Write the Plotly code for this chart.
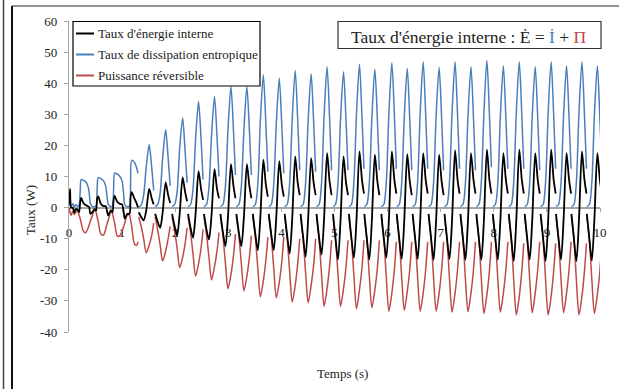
import plotly.graph_objects as go

# ---- data ----
# first seconds (plateau-shaped cycles), sampled by hand
t_early = [0.00, 0.02, 0.04, 0.07, 0.10, 0.13, 0.16, 0.19, 0.21, 0.23, 0.27, 0.31, 0.35, 0.38,
           0.40, 0.44, 0.48, 0.51, 0.53, 0.55, 0.60, 0.65, 0.69, 0.72, 0.74, 0.79, 0.82, 0.84,
           0.86, 0.91, 0.96, 1.00, 1.03, 1.05, 1.10, 1.14, 1.16, 1.18, 1.23, 1.27, 1.30]
blue_early = [0.5, 3.5, 0.5, 1.2, 0.3, 1.0, 0.4, 0.8, 5, 9.0, 8.8, 8.4, 7.2, 5,
              1.5, 0.4, 0.3, 0.5, 6, 9.6, 9.3, 8.6, 7.0, 3, 1.0, 0.3, 0.5, 6,
              11.1, 10.8, 10.0, 8.5, 4, 1.0, 0.3, 0.5, 8, 15.2, 14.6, 13.0, 11]
red_early = [0, -1.5, -2.5, -1.2, -2.2, -1.5, -1.0, -2.5, -3.5, -5, -7.5, -8.1, -7.0, -5.5,
             -4.5, -2.5, -0.8, -1.5, -3, -4.5, -8.5, -8.8, -7.0, -5, -4, -1.1, -2, -3.5,
             -5, -9.2, -9.0, -7.5, -6, -5, -2.3, -2.5, -4, -6, -11.5, -12.2, -11]
black_early = [1, 6, 0, 0, -1.5, -0.5, -0.6, -1.5, 1.5, 3.1, 1.5, 0.8, 0.5, 0.2,
               -2, -1.5, -0.5, -1, 3, 3.6, 1.2, 0.5, 0.5, -1.5, -2.5, -0.8, -1.5, 2.5,
               3.8, 1.8, 1.2, 1.0, -1.5, -3.5, -2, -2, 3.5, 5.0, 3.0, 1.5, 0]

# later cycles: time of each dissipation peak, and samples around it
cycle_t = [1.51, 1.82, 2.14, 2.44, 2.74, 3.05, 3.35, 3.66, 3.96, 4.26, 4.56, 4.86, 5.17, 5.47,
           5.76, 6.08, 6.37, 6.67, 6.97, 7.27, 7.57, 7.87, 8.18, 8.48, 8.78, 9.08, 9.37, 9.66, 9.95]
cycle_dt = [-0.198, -0.151, -0.104, -0.056, 0.0, 0.047, 0.085]

blue_cyc = [
    [0.3, 0.8, 4, 13, 20.2, 13, 5.5],
    [0.3, 1, 4.5, 16, 25.0, 16, 7],
    [0.3, 1, 5, 19, 28.8, 18, 8],
    [0.3, 1, 6, 22, 34.1, 22, 9],
    [0.3, 1, 6.5, 23, 35.7, 23, 10],
    [0.3, 1, 7, 25, 38.9, 25, 10.5],
    [0.3, 1, 7, 25, 38.9, 25, 10.5],
    [0.3, 1, 7.5, 28, 42.7, 27, 11.5],
    [0.3, 1, 7.5, 27, 41.6, 26.5, 11],
    [0.3, 1, 8, 28.5, 44.1, 28, 12],
    [0.3, 1, 8, 28, 43.0, 27.5, 11.5],
    [0.3, 1, 8, 29.5, 45.3, 29, 12],
    [0.3, 1, 8, 28.5, 43.7, 28, 12],
    [0.3, 1, 8.5, 30, 46.1, 29.5, 12.5],
    [0.3, 1, 8, 29, 44.5, 28.5, 12],
    [0.3, 1, 8.5, 30, 46.6, 30, 12.5],
    [0.3, 1, 8, 29, 44.8, 28.5, 12],
    [0.3, 1, 8.5, 30.5, 46.9, 30, 12.5],
    [0.3, 1, 8, 29.5, 45.1, 29, 12],
    [0.3, 1, 8.5, 30.5, 46.9, 30, 12.5],
    [0.3, 1, 8, 29.5, 45.3, 29, 12],
    [0.3, 1, 8.5, 30.5, 47.3, 30, 13],
    [0.3, 1, 8, 29.5, 45.6, 29, 12.5],
    [0.3, 1, 8.5, 30.5, 46.9, 30, 12.5],
    [0.3, 1, 8, 29.5, 45.3, 29, 12],
    [0.3, 1, 8.5, 30.5, 46.9, 30, 12.5],
    [0.3, 1, 8, 29.5, 45.6, 29, 12.5],
    [0.3, 1, 8.5, 30.5, 46.9, 30, 12.5],
    [0.3, 1, 8, 29.5, 45.6, 29, 12.5],
]
red_cyc = [
    [-3, -6, -10, -14.5, -12, -9, -5],
    [-3, -7, -12, -17.2, -14, -10, -6],
    [-3, -7.5, -13, -19.3, -16, -11.5, -6.5],
    [-3, -8, -15, -22.0, -18, -13, -7],
    [-3, -8.5, -16, -23.3, -19, -14, -8],
    [-3, -9, -18, -26.1, -21.5, -15.5, -8.5],
    [-3, -9, -18, -26.8, -22, -16, -9],
    [-3, -9.5, -19.5, -28.7, -23.5, -17, -9.5],
    [-3, -9.5, -19.5, -29.0, -24, -17.5, -9.5],
    [-3, -10, -20.5, -30.4, -25, -18, -10],
    [-3, -10, -21, -30.6, -25, -18.5, -10],
    [-3, -10, -21.5, -31.7, -26, -19, -10.5],
    [-3, -10, -21.5, -31.7, -26, -19, -10.5],
    [-3, -10, -22, -32.5, -26.5, -19.5, -10.5],
    [-3, -10, -22, -32.2, -26.5, -19.5, -10.5],
    [-3, -10, -22.5, -33.3, -27.5, -20, -11],
    [-3, -10, -22.5, -33.0, -27, -20, -11],
    [-3, -10, -22.5, -33.3, -27.5, -20, -11],
    [-3, -10, -22.5, -33.3, -27.5, -20, -11],
    [-3, -10, -23, -33.6, -27.5, -20, -11],
    [-3, -10, -23, -33.5, -27.5, -20, -11],
    [-3, -10, -23, -34.0, -28, -20.5, -11],
    [-3, -10, -23, -33.6, -27.5, -20, -11],
    [-3, -10, -23.5, -34.5, -28.5, -20.5, -11.5],
    [-3, -10, -23, -33.8, -27.5, -20, -11],
    [-3, -10, -23.5, -34.5, -28.5, -20.5, -11.5],
    [-3, -10, -23, -33.8, -27.5, -20, -11],
    [-3, -10, -23.5, -34.5, -28.5, -20.5, -11.5],
    [-3, -10, -23, -34.0, -28, -20.5, -11],
]
black_cyc = [
    [-1.5, -3, -4.1, -1, 6.0, 3, 1],
    [-2, -4.5, -6.5, -1.5, 8.1, 4, 1.5],
    [-2, -6, -9.0, -2, 9.7, 5, 2],
    [-2, -6.5, -9.7, -2, 11.7, 6, 2.5],
    [-2, -7, -10.3, -2.5, 12.4, 6, 3],
    [-2, -8, -12.4, -3, 14.0, 7, 3],
    [-2, -8, -12.4, -3, 14.0, 7, 3],
    [-2, -8.5, -13.7, -3, 15.4, 7.5, 3.5],
    [-2, -8.5, -13.7, -3, 14.9, 7.5, 3.5],
    [-2, -9, -14.8, -3.5, 16.5, 8, 4],
    [-2, -9.5, -15.8, -3.5, 15.9, 8, 4],
    [-2, -9.5, -15.1, -3.5, 17.5, 8.5, 4],
    [-2, -10, -16.7, -4, 16.5, 8, 4],
    [-2, -10, -16.1, -4, 18.1, 9, 4.5],
    [-2, -10, -16.7, -4, 17.0, 8.5, 4],
    [-2, -10, -16.1, -4, 18.1, 9, 4.5],
    [-2, -10, -16.5, -4, 17.2, 8.5, 4],
    [-2, -10, -16.5, -4, 17.5, 9, 4.5],
    [-2, -10, -16.8, -4, 17.0, 8.5, 4],
    [-2, -10, -16.5, -4, 18.4, 9, 4.5],
    [-2, -10, -16.8, -4, 17.5, 9, 4.5],
    [-2, -10, -16.8, -4, 18.6, 9, 4.5],
    [-2, -10, -16.7, -4, 17.5, 9, 4.5],
    [-2, -10, -17.2, -4, 18.6, 9, 4.5],
    [-2, -10, -16.7, -4, 17.5, 9, 4.5],
    [-2, -10, -17.2, -4, 18.6, 9, 4.5],
    [-2, -10, -16.7, -4, 17.5, 9, 4.5],
    [-2, -10, -17.2, -4, 18.1, 9, 4.5],
    [-2, -10, -17.0, -4, 17.5, 9, 4.5],
]

series_names = ["Taux d'énergie interne", "Taux de dissipation entropique", "Puissance réversible"]
series_colors = ["#000000", "#4A7EBB", "#BE4B48"]

x_ticks = list(range(0, 11))
y_ticks = list(range(-40, 61, 10))
y_ticktext = [str(v) for v in y_ticks]   # plain hyphen like the original

FONT = "Liberation Serif"


def build(early, cyc):
    xs = list(t_early) + [None]
    ys = list(early) + [None]
    for tc, vals in zip(cycle_t, cyc):
        xs += [round(tc + d, 3) for d in cycle_dt] + [None]
        ys += list(vals) + [None]
    return xs, ys


fig = go.Figure()
data = {0: (black_early, black_cyc), 1: (blue_early, blue_cyc), 2: (red_early, red_cyc)}
for i in [1, 2, 0]:
    xs, ys = build(*data[i])
    fig.add_trace(go.Scatter(x=xs, y=ys, mode="lines", name=series_names[i], showlegend=False,
                             line=dict(color=series_colors[i], width=1.8 if i == 0 else 1.5,
                                       shape="spline", smoothing=0.8)))

# pixel -> paper helpers (plot area 69..600 x 21..332)
def px(x):
    return (x - 69) / 531.0


def py(y):
    return (332 - y) / 311.0


shapes = []
annotations = []

# legend box drawn by hand
shapes.append(dict(type="rect", xref="paper", yref="paper", x0=px(73), x1=px(260), y0=py(86), y1=py(21.5),
                   line=dict(color="black", width=1.2), fillcolor="white", layer="above"))
for k, row in enumerate([33.5, 54.5, 75.5]):
    shapes.append(dict(type="line", xref="paper", yref="paper", x0=px(76), x1=px(94), y0=py(row), y1=py(row),
                       line=dict(color=series_colors[k], width=2), layer="above"))
    annotations.append(dict(text=series_names[k], xref="paper", yref="paper", x=px(96), y=py(row),
                            xanchor="left", yanchor="middle", showarrow=False,
                            font=dict(family=FONT, size=13, color="#222")))

# title box
shapes.append(dict(type="rect", xref="paper", yref="paper", x0=px(338), x1=px(601), y0=py(48.5), y1=py(21.5),
                   line=dict(color="#333", width=1.2), fillcolor="white", layer="above"))
annotations.append(dict(
    text="Taux d'énergie interne : Ė = <span style='color:#4A7EBB'>İ</span> + <span style='color:#BE4B48'>Π</span>",
    xref="paper", yref="paper", x=px(469), y=py(37), xanchor="center", yanchor="middle",
    showarrow=False, font=dict(family=FONT, size=17.5, color="#222")))

# axis titles
annotations.append(dict(text="Taux (W)", xref="paper", yref="paper", x=px(31), y=py(210), textangle=-90,
                        xanchor="center", yanchor="middle", showarrow=False,
                        font=dict(family=FONT, size=13, color="#222")))
annotations.append(dict(text="Temps (s)", xref="paper", yref="paper", x=px(343), y=py(373),
                        xanchor="center", yanchor="middle", showarrow=False,
                        font=dict(family=FONT, size=13, color="#222")))

# outer chart-area frame (cropped)
shapes.append(dict(type="line", xref="paper", yref="paper", x0=px(12), x1=px(625), y0=py(6), y1=py(6),
                   line=dict(color="#6f6f6f", width=1.5)))
shapes.append(dict(type="line", xref="paper", yref="paper", x0=px(12), x1=px(12), y0=py(6), y1=py(395),
                   line=dict(color="#111", width=2)))
shapes.append(dict(type="line", xref="paper", yref="paper", x0=px(3.5), x1=px(3.5), y0=py(-5), y1=py(395),
                   line=dict(color="#444", width=1.5)))

fig.update_layout(
    width=619, height=389,
    margin=dict(l=69, r=19, t=21, b=57),
    paper_bgcolor="white", plot_bgcolor="white",
    font=dict(family=FONT, size=13, color="#222"),
    shapes=shapes, annotations=annotations,
    showlegend=False,
    xaxis=dict(range=[0, 10], tickvals=x_ticks, ticktext=[str(v) for v in x_ticks],
               anchor="free", position=0.4, showline=True, linecolor="#a6a6a6", linewidth=1.5,
               ticks="outside", ticklen=4, tickcolor="#a6a6a6", showgrid=False, zeroline=False,
               ticklabelstandoff=9, layer="below traces",
               tickfont=dict(family=FONT, size=13, color="#222")),
    yaxis=dict(range=[-40, 60], tickvals=y_ticks, ticktext=y_ticktext,
               showline=True, linecolor="#a6a6a6", linewidth=1.2,
               ticks="outside", ticklen=4, tickcolor="#a6a6a6", showgrid=False, zeroline=False,
               ticklabelstandoff=4,
               tickfont=dict(family=FONT, size=13, color="#222")),
)

# the page's default body margin would shift the chart by 8 px
fig.write_html("out.html", config={"displayModeBar": False},
               post_script="document.body.style.margin='0';")
